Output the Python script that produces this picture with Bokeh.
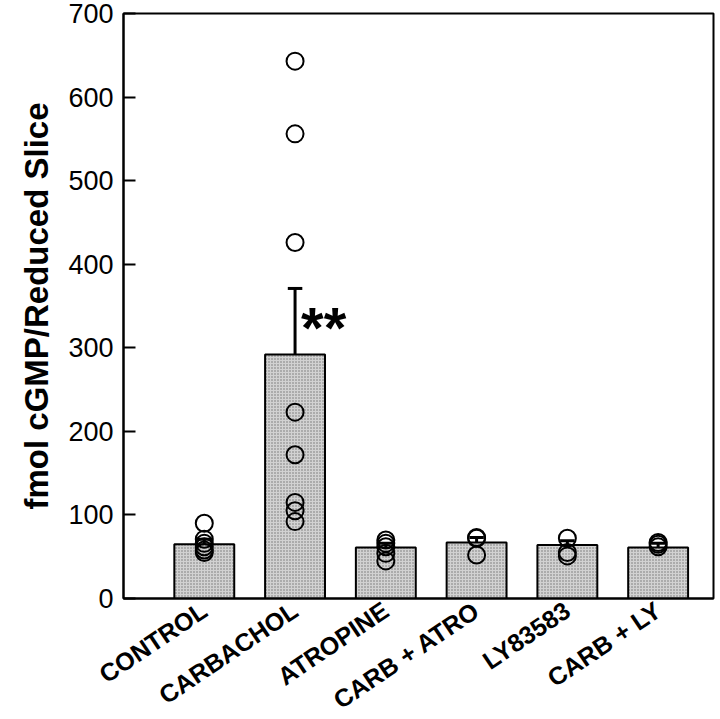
import math
from bokeh.plotting import figure
from bokeh.models import ColumnDataSource, FixedTicker, Range1d, Label
from bokeh.embed import file_html
from bokeh.resources import INLINE

categories = ["CONTROL", "CARBACHOL", "ATROPINE", "CARB + ATRO", "LY83583", "CARB + LY"]
means = [65, 292, 61, 67, 64, 61]
sems = [6, 79, 5, 6, 5, 5]

pts_control = [90, 71, 66, 62, 58, 55]
pts_carbachol = [643, 556, 426, 223, 172, 115, 105, 92]
pts_atropine = [70, 66, 62, 54, 45]
pts_carb_atro = [73, 72, 52]
pts_ly = [72, 55, 51]
pts_carb_ly = [67, 65, 62]
all_points = [pts_control, pts_carbachol, pts_atropine, pts_carb_atro, pts_ly, pts_carb_ly]

y_ticks = [0, 100, 200, 300, 400, 500, 600, 700]
significance = "**"

xpos = list(range(1, len(categories) + 1))

bars = ColumnDataSource(dict(
    x=xpos, top=means,
    hi=[m + s for m, s in zip(means, sems)],
))
px, py = [], []
for x, pts in zip(xpos, all_points):
    px += [x] * len(pts)
    py += pts
points = ColumnDataSource(dict(x=px, y=py))

p = figure(frame_width=590, frame_height=585, output_backend="svg", toolbar_location=None,
           x_range=Range1d(0.11, 6.61), y_range=Range1d(0, 700),
           min_border_left=123, min_border_right=7, min_border_top=13, min_border_bottom=121)
p.background_fill_color = "white"
p.border_fill_color = "white"
p.xgrid.visible = False
p.ygrid.visible = False
p.outline_line_color = "black"
p.outline_line_width = 2

p.vbar(x="x", top="top", bottom=0, width=0.66, source=bars,
       fill_color="#d2d2d2", line_color="black", line_width=2,
       hatch_pattern="dot", hatch_color="#222222", hatch_scale=3, hatch_weight=1, hatch_alpha=0.55)
p.segment(x0="x", y0="top", x1="x", y1="hi", source=bars,
          line_color="black", line_width=3)
p.rect(x="x", y="hi", width=0.16, height=3, height_units="screen", source=bars,
       fill_color="black", line_color=None)
p.scatter(x="x", y="y", source=points, marker="circle", size=17,
          fill_alpha=0, line_color="black", line_width=2)

lab = Label(x=xpos[1], y=means[1] + 32, text=significance, x_offset=6,
            text_font="Liberation Sans", text_font_style="bold", text_font_size="58px",
            text_baseline="middle", text_color="black")
p.add_layout(lab)

p.yaxis.ticker = FixedTicker(ticks=y_ticks)
p.yaxis.major_tick_in = 12
p.yaxis.major_tick_out = 0
p.yaxis.minor_tick_line_color = None
p.yaxis.axis_line_width = 2
p.yaxis.major_tick_line_width = 2
p.yaxis.major_label_text_font = "Liberation Sans"
p.yaxis.major_label_text_font_size = "27px"
p.yaxis.major_label_text_color = "black"
p.yaxis.major_label_standoff = 10
p.yaxis.axis_label = "fmol cGMP/Reduced Slice"
p.yaxis.axis_label_text_font = "Liberation Sans"
p.yaxis.axis_label_text_font_style = "bold"
p.yaxis.axis_label_text_font_size = "33px"
p.yaxis.axis_label_text_color = "black"
p.yaxis.axis_label_standoff = 10

p.xaxis.ticker = FixedTicker(ticks=xpos)
p.xaxis.major_label_overrides = {x: c for x, c in zip(xpos, categories)}
p.xaxis.major_tick_line_color = None
p.xaxis.minor_tick_line_color = None
p.xaxis.axis_line_width = 2
p.xaxis.major_label_orientation = math.radians(34)
p.xaxis.major_label_text_font = "Liberation Sans"
p.xaxis.major_label_text_font_style = "bold"
p.xaxis.major_label_text_font_size = "25px"
p.xaxis.major_label_text_color = "black"
p.xaxis.major_label_standoff = 3

open("out.html", "w").write(file_html(p, INLINE))
